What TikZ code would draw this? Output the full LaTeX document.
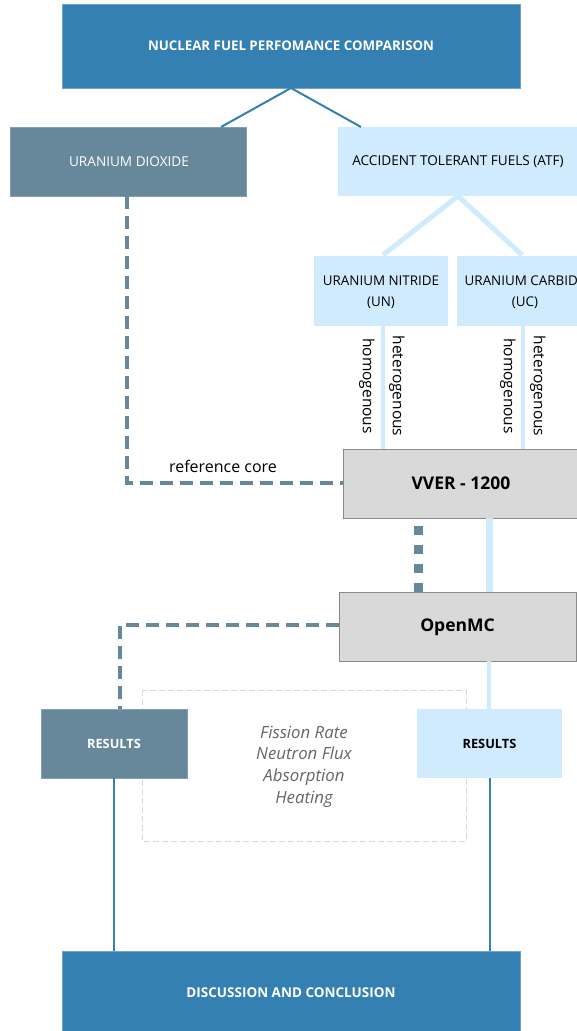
\documentclass[tikz,border=0pt]{standalone}
\usepackage{fontspec}
\setmainfont{Open Sans}
\begin{document}
\begin{tikzpicture}[x=1pt,y=-1pt,
  darkblue/.style={fill=cDark,draw=cDark!70!white,line width=0.6pt},
  slatebox/.style={fill=cSlate,draw=cSlate!80!white,line width=0.6pt},
  lightbox/.style={fill=cLight,draw=none},
  graybox/.style={fill=cGray,draw=cBorder,line width=0.8pt},
  bluelink/.style={draw=cDark,line width=2pt},
  lightlink/.style={draw=cLight,line width=#1},
  slatedash/.style={draw=cSlate,line width=4pt,dash pattern=on 13pt off 7pt},
  lbl/.style={inner sep=0pt,anchor=center,align=center}
]
\definecolor{cDark}{HTML}{3580B2}
\definecolor{cSlate}{HTML}{67889B}
\definecolor{cLight}{HTML}{D0EBFD}
\definecolor{cGray}{HTML}{D9D9D9}
\definecolor{cBorder}{HTML}{8A8A8A}
\definecolor{cText}{HTML}{666666}
\useasboundingbox (0,0) rectangle (577,1031);
\clip (0,0) rectangle (577,1031);
% background dashed frame
\path[draw=cGray,line width=1pt,dash pattern=on 6pt off 3pt] (142,690) rectangle (466,841);
% boxes
\path[darkblue] (62,4) rectangle (520,88);
\node[lbl,text=white,font=\fontsize{13.3}{15}\selectfont\bfseries] (top) at (291,46) {NUCLEAR FUEL PERFOMANCE COMPARISON};
\coordinate (topb) at (291,88);
\path[slatebox] (10,127) rectangle (246,196);
\node[lbl,text=white,font=\fontsize{13.6}{15}\selectfont] (uo2) at (129,161.5) {URANIUM DIOXIDE};
\path[lightbox] (338,127) rectangle (580,196);
\node[lbl,font=\fontsize{13.6}{15}\selectfont] (atf) at (458,161.5) {ACCIDENT TOLERANT FUELS (ATF)};
\path[lightbox] (314,256) rectangle (448,326);
\node[lbl,font=\fontsize{13.4}{21}\selectfont] (un) at (381,292) {URANIUM NITRIDE\\(UN)};
\path[lightbox] (457,256) rectangle (600,326);
\node[lbl,font=\fontsize{13.4}{21}\selectfont] (uc) at (525,292) {URANIUM CARBIDE\\(UC)};
\path[graybox] (343,449) rectangle (580,518);
\node[lbl,font=\fontsize{17.5}{19}\selectfont\bfseries] (vver) at (461,483.5) {VVER - 1200};
\path[graybox] (339,592) rectangle (576,661);
\node[lbl,font=\fontsize{17.5}{19}\selectfont\bfseries] (omc) at (457.5,627) {OpenMC};
\path[slatebox] (41,709) rectangle (187,778);
\node[lbl,text=white,font=\fontsize{12.8}{15}\selectfont\bfseries] (resl) at (114,743.5) {RESULTS};
\path[lightbox] (417,709) rectangle (562,778);
\node[lbl,font=\fontsize{12.8}{15}\selectfont\bfseries] (resr) at (489.5,743.5) {RESULTS};
\node[lbl,text=cText,font=\fontsize{16.8}{21.7}\selectfont\itshape] (quant) at (304,766.5) {Fission Rate\\Neutron Flux\\Absorption\\Heating};
\path[darkblue] (62,951) rectangle (520,1035);
\node[lbl,text=white,font=\fontsize{13.5}{15}\selectfont\bfseries] (disc) at (291,993) {DISCUSSION AND CONCLUSION};
% connectors
\draw[bluelink] (topb) -- (221,127);
\draw[bluelink] (topb) -- (361,127);
\draw[lightlink=5pt] (458,196) -- (383,255);
\draw[lightlink=5pt] (458,196) -- (522,255);
\draw[lightlink=4pt] (383,326) -- (383,449);
\draw[lightlink=4pt] (523,326) -- (523,449);
\node[lbl,rotate=-90,font=\fontsize{15.5}{17}\selectfont] (hom1) at (367,386) {homogenous};
\node[lbl,rotate=-90,font=\fontsize{15.5}{17}\selectfont] (het1) at (397,386) {heterogenous};
\node[lbl,rotate=-90,font=\fontsize{15.5}{17}\selectfont] (hom2) at (508,386) {homogenous};
\node[lbl,rotate=-90,font=\fontsize{15.5}{17}\selectfont] (het2) at (538,386) {heterogenous};
\draw[slatedash] (127,196) -- (127,483) -- (343,483);
\node[lbl,font=\fontsize{16}{18}\selectfont] (refc) at (223,466) {reference core};
\draw[draw=cSlate,line width=9pt,dash pattern=on 9pt off 10pt] (418,526) -- (418,592);
\draw[lightlink=7pt] (489,518) -- (489,592);
\draw[slatedash] (339,625) -- (120,625) -- (120,709);
\draw[lightlink=4pt] (489,661) -- (489,709);
\draw[draw=cDark,line width=1.8pt] (114,778) -- (114,951);
\draw[draw=cDark,line width=1.8pt] (490,778) -- (490,951);
\end{tikzpicture}
\end{document}
